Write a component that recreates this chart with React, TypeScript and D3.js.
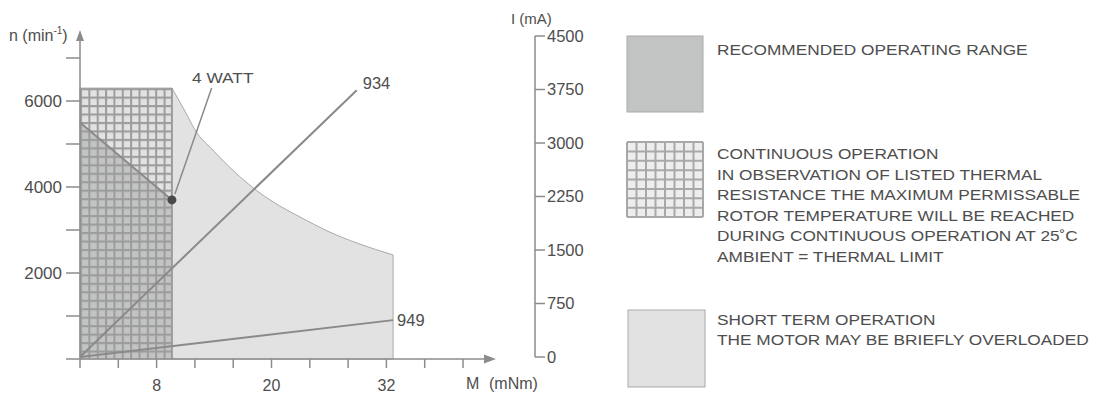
import React from "react";
import * as d3 from "d3";

// ---------- data ----------
const torqueTicks = [0, 4, 8, 12, 16, 20, 24, 28, 32, 36, 40];
const torqueLabels = [8, 20, 32];
const speedTicks = [0, 1000, 2000, 3000, 4000, 5000, 6000, 7000];
const speedLabels = [2000, 4000, 6000];
const currentTicks = [0, 750, 1500, 2250, 3000, 3750, 4500];

const continuousTorqueMax = 9.6; // mNm
const continuousSpeedMax = 6300; // min-1

const shortTermTorque = [9.6, 11, 12, 14, 16, 18.5, 21, 23, 26, 29, 32.7];
const shortTermSpeed = [6300, 5750, 5330, 4830, 4380, 3910, 3540, 3300, 2960, 2690, 2420];

const speedLineTorque = [0, 9.6];
const speedLineSpeed = [5500, 3700];

const current934Torque = [0, 28.9];
const current934 = [0, 3740];
const current949Torque = [0, 32.7];
const current949 = [0, 517];

const wattPoint = { torque: 9.6, speed: 3700, label: "4 WATT" };
const wattLabelAt = { torque: 11.7, speed: 6420 };
const wattLeaderStart = { torque: 13.75, speed: 6300 };

const legendRecommended = ["RECOMMENDED OPERATING RANGE"];
const legendContinuous = [
  "CONTINUOUS OPERATION",
  "IN OBSERVATION OF LISTED THERMAL",
  "RESISTANCE THE MAXIMUM PERMISSABLE",
  "ROTOR TEMPERATURE WILL BE REACHED",
  "DURING CONTINUOUS OPERATION AT 25\u02daC",
  "AMBIENT = THERMAL LIMIT",
];
const legendShortTerm = ["SHORT TERM OPERATION", "THE MOTOR MAY BE BRIEFLY OVERLOADED"];

// ---------- styling ----------
const FONT = "'Liberation Sans', Arial, Helvetica, sans-serif";
const TEXT = "#4e4e4e";
const AXIS = "#8c8c8c";
const LIGHT = "#e2e2e2";
const DARK = "#c2c4c4";
const GRIDLINE = "#9c9c9c";
const LINE = "#8a8a8a";
const SX = 1.115; // horizontal stretch of the datasheet lettering

export default function App() {
  const W = 1099;
  const H = 394;
  const x = d3.scaleLinear().domain([0, 40]).range([80, 463]);
  const yL = d3.scaleLinear().domain([0, 7000]).range([359, 58]);
  const yR = d3.scaleLinear().domain([0, 4500]).range([357, 36]);

  const x0 = x(0);
  const y0 = yL(0);

  // short-term (light) region
  const curve = d3
    .line<number>()
    .x((_, i) => x(shortTermTorque[i]))
    .y((_, i) => yL(shortTermSpeed[i]))
    .curve(d3.curveMonotoneX)(shortTermTorque) as string;
  const lastT = shortTermTorque[shortTermTorque.length - 1];
  const lightPath =
    `M${x0},${y0}L${x0},${yL(continuousSpeedMax)}` +
    curve.replace(/^M/, "L") +
    `L${x(lastT)},${y0}Z`;

  // recommended (dark) region under the speed line
  const darkPath =
    `M${x0},${y0}` +
    speedLineTorque.map((t, i) => `L${x(t)},${yL(speedLineSpeed[i])}`).join("") +
    `L${x(continuousTorqueMax)},${y0}Z`;

  const hx0 = x0;
  const hx1 = x(continuousTorqueMax);
  const hy0 = yL(continuousSpeedMax);
  const hy1 = y0;
  const cellW = (hx1 - hx0) / 11;
  const cellH = (hy1 - hy0) / 32;

  const lineL = d3
    .line<number>()
    .x((_, i) => x(speedLineTorque[i]))
    .y((_, i) => yL(speedLineSpeed[i]));
  const line934 = d3
    .line<number>()
    .x((_, i) => x(current934Torque[i]))
    .y((_, i) => yR(current934[i]));
  const line949 = d3
    .line<number>()
    .x((_, i) => x(current949Torque[i]))
    .y((_, i) => yR(current949[i]));

  const rAxisX = 535;
  const xAxisEnd = 496;

  const stretched = (
    tx: number,
    ty: number,
    s: string,
    size = 15.5,
    key?: string | number
  ) => (
    <text
      key={key}
      transform={`translate(${tx},${ty}) scale(${SX},1)`}
      fontSize={size}
      fill={TEXT}
      fontFamily={FONT}
    >
      {s}
    </text>
  );

  // legend grid swatch
  const lg = { x: 627, y: 142, w: 76, h: 75, n: 8 };
  const lgLines: JSX.Element[] = [];
  for (let i = 0; i <= lg.n; i++) {
    const gx = lg.x + (i * lg.w) / lg.n;
    const gy = lg.y + (i * lg.h) / lg.n;
    lgLines.push(
      <line key={"v" + i} x1={gx} x2={gx} y1={lg.y} y2={lg.y + lg.h} stroke="#a8a8a8" strokeWidth={2} />,
      <line key={"h" + i} x1={lg.x} x2={lg.x + lg.w} y1={gy} y2={gy} stroke="#a8a8a8" strokeWidth={2} />
    );
  }

  return (
    <svg
      width={W}
      height={H}
      style={{ position: "absolute", left: 0, top: 0, background: "#fff" }}
      fontFamily={FONT}
    >
      <defs>
        <pattern
          id="hatchGrid"
          patternUnits="userSpaceOnUse"
          x={hx0}
          y={hy0}
          width={cellW}
          height={cellH}
        >
          <path d={`M0,1H${cellW}M1,0V${cellH}`} stroke={GRIDLINE} strokeWidth={2} fill="none" />
        </pattern>
      </defs>

      {/* regions */}
      <path d={lightPath} fill={LIGHT} stroke="#a9a9a9" strokeWidth={1} />
      <path d={darkPath} fill={DARK} />
      <rect x={hx0} y={hy0} width={hx1 - hx0} height={hy1 - hy0} fill="url(#hatchGrid)" />
      <line x1={hx1} x2={hx1} y1={hy0} y2={hy1} stroke={GRIDLINE} strokeWidth={2} />

      {/* characteristic lines */}
      <path d={lineL(speedLineTorque) as string} stroke={LINE} strokeWidth={2} fill="none" />
      <path d={line934(current934Torque) as string} stroke={LINE} strokeWidth={2} fill="none" />
      <path d={line949(current949Torque) as string} stroke={LINE} strokeWidth={2} fill="none" />

      {/* 4 watt annotation */}
      <line
        x1={x(wattLeaderStart.torque)}
        y1={yL(wattLeaderStart.speed)}
        x2={x(wattPoint.torque) + 3}
        y2={yL(wattPoint.speed) - 6}
        stroke={LINE}
        strokeWidth={1.5}
      />
      <circle cx={x(wattPoint.torque)} cy={yL(wattPoint.speed)} r={4.5} fill="#4a4a4a" />
      {stretched(x(wattLabelAt.torque), yL(wattLabelAt.speed), wattPoint.label, 15.5)}

      {/* line labels */}
      <text x={x(current934Torque[1]) + 6} y={yR(current934[1]) - 1} fontSize={16.5} fill={TEXT}>
        934
      </text>
      <text x={x(current949Torque[1]) + 4} y={yR(current949[1]) + 6} fontSize={16.5} fill={TEXT}>
        949
      </text>

      {/* left axis */}
      <line x1={x0} x2={x0} y1={y0} y2={36} stroke={AXIS} strokeWidth={1.5} />
      <path d={`M${x0},30L${x0 - 4},41L${x0 + 4},41Z`} fill={AXIS} />
      {speedTicks.map((t) => (
        <line key={t} x1={x0 - 14} x2={x0} y1={yL(t)} y2={yL(t)} stroke={AXIS} strokeWidth={1.5} />
      ))}
      {speedLabels.map((t) => (
        <text
          key={t}
          x={x0 - 18}
          y={yL(t)}
          dy="0.36em"
          textAnchor="end"
          fontSize={17}
          fill={TEXT}
        >
          {t}
        </text>
      ))}
      <text x={9} y={41} fontSize={16} fill={TEXT}>
        n (min
        <tspan fontSize={10} dy={-7}>
          -1
        </tspan>
        <tspan dy={7}>)</tspan>
      </text>

      {/* bottom axis */}
      <line x1={x0} x2={xAxisEnd - 8} y1={y0} y2={y0} stroke={AXIS} strokeWidth={1.5} />
      <path d={`M${xAxisEnd},${y0}L${xAxisEnd - 12},${y0 - 4.5}L${xAxisEnd - 12},${y0 + 4.5}Z`} fill={AXIS} />
      {torqueTicks.map((t) => (
        <line key={t} x1={x(t)} x2={x(t)} y1={y0} y2={y0 + 9} stroke={AXIS} strokeWidth={1.5} />
      ))}
      {torqueLabels.map((t) => (
        <text key={t} x={x(t)} y={391} textAnchor="middle" fontSize={16} fill={TEXT}>
          {t}
        </text>
      ))}
      <text x={466} y={389} fontSize={16} fill={TEXT}>
        M
      </text>
      <text x={489} y={389} fontSize={16} fill={TEXT}>
        (mNm)
      </text>

      {/* right axis */}
      <line x1={rAxisX} x2={rAxisX} y1={yR(4500)} y2={yR(0)} stroke={AXIS} strokeWidth={1.5} />
      {currentTicks.map((t) => (
        <g key={t}>
          <line x1={rAxisX} x2={rAxisX + 10} y1={yR(t)} y2={yR(t)} stroke={AXIS} strokeWidth={1.5} />
          <text x={rAxisX + 12} y={yR(t)} dy="0.36em" fontSize={16.5} fill={TEXT}>
            {t}
          </text>
        </g>
      ))}
      <text x={511} y={24} fontSize={15} fill={TEXT}>
        I (mA)
      </text>

      {/* legend */}
      <rect x={627} y={36} width={76} height={76} fill={DARK} stroke="#a9a9a9" strokeWidth={1} />
      {legendRecommended.map((s, i) => stretched(717, 55 + i * 21, s, 15.5, "r" + i))}

      <rect x={lg.x} y={lg.y} width={lg.w} height={lg.h} fill="#ededed" />
      {lgLines}
      {legendContinuous.map((s, i) => stretched(717, 159 + i * 20.5, s, 15.5, "c" + i))}

      <rect x={628} y={310} width={77} height={77} fill={LIGHT} stroke="#a9a9a9" strokeWidth={1} />
      {legendShortTerm.map((s, i) => stretched(717, 325 + i * 20, s, 15.5, "s" + i))}
    </svg>
  );
}
